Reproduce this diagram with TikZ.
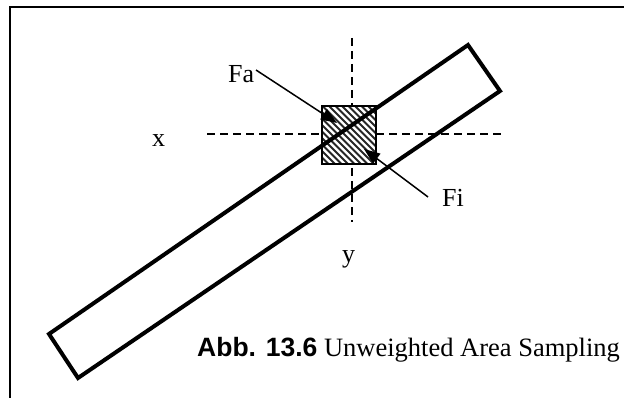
\documentclass[tikz,border=0pt]{standalone}
\usepackage{fontspec}
\setmainfont{Liberation Serif}
\newfontfamily\arialfont{Liberation Sans}
\usetikzlibrary{arrows.meta}
\begin{document}
\begin{tikzpicture}[x=1pt,y=-1pt,
  frameline/.style={line width=2pt,black},
  barline/.style={line width=4pt,line join=miter},
  axisline/.style={line width=1.3pt,dash pattern=on 8pt off 5pt},
  pointer/.style={line width=1.5pt,-{Triangle[length=16pt,width=12pt]}},
  lbl/.style={inner sep=0pt,font=\fontsize{26}{30}\selectfont},
  caplbl/.style={inner sep=0pt,font=\fontsize{26.5}{30}\selectfont},
  hatch/.style={line width=2pt,black!85}]
\useasboundingbox (0,0) rectangle (624,398);
\clip (0,0) rectangle (624,398);
\fill[white] (0,0) rectangle (624,398);
% frame
\draw[frameline] (10,420) -- (10,7) -- (640,7);
% axes
\coordinate (hl) at (207,134);
\coordinate (hr) at (505,134);
\coordinate (vt) at (352,38);
\coordinate (vb) at (352,222);
\draw[axisline] (hl) -- (hr);
\draw[axisline] (vt) -- (vb);
% hatched square
\coordinate (sqa) at (322,106);
\coordinate (sqb) at (376,164);
\begin{scope}
\clip (sqa) rectangle (sqb);
\fill[white] (sqa) rectangle (sqb);
\foreach \i in {-84,-77.5,...,84}{
  \draw[hatch] (322+\i-10,96) -- (322+\i+80,186);
}
\end{scope}
\draw[line width=2pt] (sqa) rectangle (sqb);
% bar
\coordinate (b1) at (49,334);
\coordinate (b2) at (468,45);
\coordinate (b3) at (500,91);
\coordinate (b4) at (78,378);
\draw[barline] (b1) -- (b2) -- (b3) -- (b4) -- cycle;
% labels
\node[lbl,anchor=base west] (fa) at (228,83) {Fa};
\node[lbl,anchor=base west] (fi) at (442,207) {Fi};
\node[lbl,anchor=base west] (xl) at (152,147) {x};
\node[lbl,anchor=base west] (yl) at (342,262) {y};
% pointers
\coordinate (fas) at (256,70);
\coordinate (fat) at (337,123);
\coordinate (fis) at (428,197);
\coordinate (fit) at (364,149);
\draw[pointer] (fas) -- (fat);
\draw[pointer] (fis) -- (fit);
% caption
\node[caplbl,anchor=base west] (cap) at (197,356) {{\arialfont\bfseries Abb. 13.6} Unweighted Area Sampling};
\end{tikzpicture}
\end{document}
